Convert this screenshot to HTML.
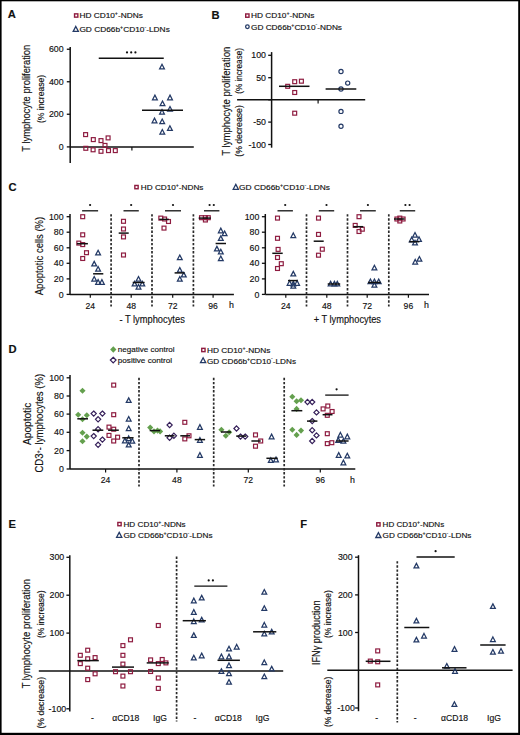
<!DOCTYPE html>
<html><head><meta charset="utf-8"><style>
html,body{margin:0;padding:0;background:#fff;}
svg{display:block;}
text{font-family:"Liberation Sans", sans-serif;stroke:#111;stroke-width:0.15px;}
</style></head><body>
<svg width="520" height="735" viewBox="0 0 520 735">
<rect x="0" y="0" width="520" height="735" fill="#fff"/>
<rect x="0" y="0" width="520" height="1.3" fill="#000"/>
<rect x="0" y="0" width="1.6" height="735" fill="#000"/>
<rect x="518.2" y="0" width="1.8" height="735" fill="#000"/>
<rect x="0" y="732.8" width="520" height="2.2" fill="#000"/>
<text x="7.8" y="18.4" font-size="11.2" text-anchor="start" font-weight="bold" fill="#111">A</text>
<text x="211.4" y="18.6" font-size="11.2" text-anchor="start" font-weight="bold" fill="#111">B</text>
<text x="8.4" y="191.4" font-size="11.2" text-anchor="start" font-weight="bold" fill="#111">C</text>
<text x="8.5" y="353.1" font-size="11.2" text-anchor="start" font-weight="bold" fill="#111">D</text>
<text x="8.5" y="527.6" font-size="11.2" text-anchor="start" font-weight="bold" fill="#111">E</text>
<text x="300.3" y="527.6" font-size="11.2" text-anchor="start" font-weight="bold" fill="#111">F</text>
<rect x="74.55" y="13.85" width="3.3" height="3.3" fill="none" stroke="#8e1c40" stroke-width="1.4"/>
<text x="79.4" y="18.4" font-size="7.9" fill="#111" textLength="63.4" lengthAdjust="spacingAndGlyphs">HD CD10<tspan dy="-3.0" font-size="5">+</tspan><tspan dy="3.0">-NDNs</tspan></text>
<path d="M75.80 26.50L78.40 31.40L73.20 31.40Z" fill="none" stroke="#243a66" stroke-width="1.3" stroke-linejoin="miter"/>
<text x="79.4" y="31.9" font-size="7.9" fill="#111" textLength="90.4" lengthAdjust="spacingAndGlyphs">GD CD66b<tspan dy="-3.0" font-size="5">+</tspan><tspan dy="3.0">CD10<tspan dy="-3.3" font-size="5">-</tspan><tspan dy="3.3">-LDNs</tspan></tspan></text>
<line x1="70.2" y1="47.0" x2="70.2" y2="163.0" stroke="#111" stroke-width="1.5"/>
<line x1="66.8" y1="49.25" x2="70.2" y2="49.25" stroke="#111" stroke-width="1.3"/>
<text x="63.6" y="52.35" font-size="8.8" text-anchor="end" font-weight="normal" fill="#111">600</text>
<line x1="66.8" y1="81.75" x2="70.2" y2="81.75" stroke="#111" stroke-width="1.3"/>
<text x="63.6" y="84.85" font-size="8.8" text-anchor="end" font-weight="normal" fill="#111">400</text>
<line x1="66.8" y1="114.25" x2="70.2" y2="114.25" stroke="#111" stroke-width="1.3"/>
<text x="63.6" y="117.35" font-size="8.8" text-anchor="end" font-weight="normal" fill="#111">200</text>
<line x1="66.8" y1="146.9" x2="70.2" y2="146.9" stroke="#111" stroke-width="1.3"/>
<text x="63.6" y="150.0" font-size="8.8" text-anchor="end" font-weight="normal" fill="#111">0</text>
<line x1="70.2" y1="146.9" x2="193.8" y2="146.9" stroke="#111" stroke-width="1.5"/>
<line x1="131.9" y1="146.9" x2="131.9" y2="150.4" stroke="#111" stroke-width="1.2"/>
<line x1="98.75" y1="58.25" x2="163.75" y2="58.25" stroke="#111" stroke-width="1.3"/>
<circle cx="127.00" cy="52.45" r="1.1" fill="#111"/>
<circle cx="131.20" cy="52.45" r="1.1" fill="#111"/>
<circle cx="135.40" cy="52.45" r="1.1" fill="#111"/>
<rect x="83.65" y="132.65" width="3.9" height="3.9" fill="none" stroke="#8e1c40" stroke-width="1.2"/>
<rect x="91.35" y="137.65" width="3.9" height="3.9" fill="none" stroke="#8e1c40" stroke-width="1.2"/>
<rect x="99.05" y="138.65" width="3.9" height="3.9" fill="none" stroke="#8e1c40" stroke-width="1.2"/>
<rect x="106.15" y="135.95" width="3.9" height="3.9" fill="none" stroke="#8e1c40" stroke-width="1.2"/>
<rect x="103.05" y="143.45" width="3.9" height="3.9" fill="none" stroke="#8e1c40" stroke-width="1.2"/>
<rect x="83.85" y="146.35" width="3.9" height="3.9" fill="none" stroke="#8e1c40" stroke-width="1.2"/>
<rect x="91.15" y="147.85" width="3.9" height="3.9" fill="none" stroke="#8e1c40" stroke-width="1.2"/>
<rect x="99.05" y="149.35" width="3.9" height="3.9" fill="none" stroke="#8e1c40" stroke-width="1.2"/>
<rect x="106.55" y="148.65" width="3.9" height="3.9" fill="none" stroke="#8e1c40" stroke-width="1.2"/>
<rect x="113.35" y="148.65" width="3.9" height="3.9" fill="none" stroke="#8e1c40" stroke-width="1.2"/>
<path d="M162.00 64.30L164.40 68.90L159.60 68.90Z" fill="none" stroke="#243a66" stroke-width="1.25" stroke-linejoin="miter"/>
<path d="M154.90 95.15L157.30 99.75L152.50 99.75Z" fill="none" stroke="#243a66" stroke-width="1.25" stroke-linejoin="miter"/>
<path d="M170.00 95.15L172.40 99.75L167.60 99.75Z" fill="none" stroke="#243a66" stroke-width="1.25" stroke-linejoin="miter"/>
<path d="M162.50 101.05L164.90 105.65L160.10 105.65Z" fill="none" stroke="#243a66" stroke-width="1.25" stroke-linejoin="miter"/>
<path d="M170.00 106.55L172.40 111.15L167.60 111.15Z" fill="none" stroke="#243a66" stroke-width="1.25" stroke-linejoin="miter"/>
<path d="M162.00 109.55L164.40 114.15L159.60 114.15Z" fill="none" stroke="#243a66" stroke-width="1.25" stroke-linejoin="miter"/>
<path d="M154.50 118.15L156.90 122.75L152.10 122.75Z" fill="none" stroke="#243a66" stroke-width="1.25" stroke-linejoin="miter"/>
<path d="M162.20 119.05L164.60 123.65L159.80 123.65Z" fill="none" stroke="#243a66" stroke-width="1.25" stroke-linejoin="miter"/>
<path d="M169.90 125.75L172.30 130.35L167.50 130.35Z" fill="none" stroke="#243a66" stroke-width="1.25" stroke-linejoin="miter"/>
<path d="M162.30 129.55L164.70 134.15L159.90 134.15Z" fill="none" stroke="#243a66" stroke-width="1.25" stroke-linejoin="miter"/>
<line x1="142" y1="110.2" x2="183" y2="110.2" stroke="#111" stroke-width="1.5"/>
<text x="30.1" y="151.7" font-size="10.6" text-anchor="start" font-weight="normal" fill="#111" textLength="107" lengthAdjust="spacingAndGlyphs" transform="rotate(-90 30.1 151.7)">T lymphocyte proliferation</text>
<text x="43.6" y="123.0" font-size="8.6" text-anchor="start" font-weight="normal" fill="#111" textLength="48.2" lengthAdjust="spacingAndGlyphs" transform="rotate(-90 43.6 123.0)">(% increase)</text>
<rect x="245.70" y="13.95" width="3.3" height="3.3" fill="none" stroke="#8e1c40" stroke-width="1.4"/>
<text x="251.0" y="18.4" font-size="7.9" fill="#111" textLength="63.4" lengthAdjust="spacingAndGlyphs">HD CD10<tspan dy="-3.0" font-size="5">+</tspan><tspan dy="3.0">-NDNs</tspan></text>
<circle cx="247.4" cy="26.75" r="1.8" fill="none" stroke="#243a66" stroke-width="1.3"/>
<text x="251.0" y="29.6" font-size="7.9" fill="#111" textLength="91.0" lengthAdjust="spacingAndGlyphs">GD CD66b<tspan dy="-3.0" font-size="5">+</tspan><tspan dy="3.0">CD10<tspan dy="-3.3" font-size="5">-</tspan><tspan dy="3.3">-NDNs</tspan></tspan></text>
<line x1="271.6" y1="52.1" x2="271.6" y2="147.7" stroke="#111" stroke-width="1.5"/>
<line x1="268.20000000000005" y1="55.3" x2="271.6" y2="55.3" stroke="#111" stroke-width="1.3"/>
<text x="266.0" y="58.4" font-size="8.8" text-anchor="end" font-weight="normal" fill="#111">100</text>
<line x1="268.20000000000005" y1="77.7" x2="271.6" y2="77.7" stroke="#111" stroke-width="1.3"/>
<text x="266.0" y="80.8" font-size="8.8" text-anchor="end" font-weight="normal" fill="#111">50</text>
<line x1="268.20000000000005" y1="122.1" x2="271.6" y2="122.1" stroke="#111" stroke-width="1.3"/>
<text x="266.0" y="125.19999999999999" font-size="8.8" text-anchor="end" font-weight="normal" fill="#111">-50</text>
<line x1="268.20000000000005" y1="144.5" x2="271.6" y2="144.5" stroke="#111" stroke-width="1.3"/>
<text x="266.0" y="147.6" font-size="8.8" text-anchor="end" font-weight="normal" fill="#111">-100</text>
<line x1="268.2" y1="99.8" x2="271.6" y2="99.8" stroke="#111" stroke-width="1.3"/>
<line x1="237.1" y1="99.8" x2="365.2" y2="99.8" stroke="#111" stroke-width="1.5"/>
<line x1="318.1" y1="99.8" x2="318.1" y2="103.5" stroke="#111" stroke-width="1.2"/>
<rect x="285.75" y="84.35" width="3.9" height="3.9" fill="none" stroke="#8e1c40" stroke-width="1.2"/>
<rect x="292.75" y="79.75" width="3.9" height="3.9" fill="none" stroke="#8e1c40" stroke-width="1.2"/>
<rect x="299.45" y="79.25" width="3.9" height="3.9" fill="none" stroke="#8e1c40" stroke-width="1.2"/>
<rect x="292.75" y="90.55" width="3.9" height="3.9" fill="none" stroke="#8e1c40" stroke-width="1.2"/>
<rect x="292.75" y="111.25" width="3.9" height="3.9" fill="none" stroke="#8e1c40" stroke-width="1.2"/>
<line x1="279" y1="86.3" x2="309.5" y2="86.3" stroke="#111" stroke-width="1.5"/>
<circle cx="341" cy="71.5" r="2.1" fill="none" stroke="#243a66" stroke-width="1.2"/>
<circle cx="347.7" cy="83.1" r="2.1" fill="none" stroke="#243a66" stroke-width="1.2"/>
<circle cx="341" cy="89" r="2.1" fill="none" stroke="#243a66" stroke-width="1.2"/>
<circle cx="341" cy="111.4" r="2.1" fill="none" stroke="#243a66" stroke-width="1.2"/>
<circle cx="341" cy="126.2" r="2.1" fill="none" stroke="#243a66" stroke-width="1.2"/>
<line x1="325.6" y1="89" x2="356.3" y2="89" stroke="#111" stroke-width="1.5"/>
<text x="229.8" y="155.7" font-size="10.6" text-anchor="start" font-weight="normal" fill="#111" textLength="109" lengthAdjust="spacingAndGlyphs" transform="rotate(-90 229.8 155.7)">T lymphocyte proliferation</text>
<text x="242.2" y="93.8" font-size="8.6" text-anchor="start" font-weight="normal" fill="#111" textLength="45.8" lengthAdjust="spacingAndGlyphs" transform="rotate(-90 242.2 93.8)">(% increase)</text>
<text x="242.2" y="156.7" font-size="8.6" text-anchor="start" font-weight="normal" fill="#111" textLength="51.5" lengthAdjust="spacingAndGlyphs" transform="rotate(-90 242.2 156.7)">(% decrease)</text>
<rect x="134.85" y="185.45" width="3.3" height="3.3" fill="none" stroke="#8e1c40" stroke-width="1.4"/>
<text x="140.8" y="190.0" font-size="7.9" fill="#111" textLength="62.6" lengthAdjust="spacingAndGlyphs">HD CD10<tspan dy="-3.0" font-size="5">+</tspan><tspan dy="3.0">-NDNs</tspan></text>
<path d="M235.80 184.40L238.40 189.30L233.20 189.30Z" fill="none" stroke="#243a66" stroke-width="1.3" stroke-linejoin="miter"/>
<text x="239.1" y="190.0" font-size="7.9" fill="#111" textLength="90.9" lengthAdjust="spacingAndGlyphs">GD CD66b<tspan dy="-3.0" font-size="5">+</tspan><tspan dy="3.0">CD10<tspan dy="-3.3" font-size="5">-</tspan><tspan dy="3.3">-LDNs</tspan></tspan></text>
<line x1="70.0" y1="214.0" x2="70.0" y2="294.4" stroke="#111" stroke-width="1.5"/>
<line x1="66.6" y1="216.7" x2="70.0" y2="216.7" stroke="#111" stroke-width="1.3"/>
<text x="63.6" y="219.79999999999998" font-size="8.8" text-anchor="end" font-weight="normal" fill="#111">100</text>
<line x1="66.6" y1="232.2" x2="70.0" y2="232.2" stroke="#111" stroke-width="1.3"/>
<text x="63.6" y="235.29999999999998" font-size="8.8" text-anchor="end" font-weight="normal" fill="#111">80</text>
<line x1="66.6" y1="247.8" x2="70.0" y2="247.8" stroke="#111" stroke-width="1.3"/>
<text x="63.6" y="250.9" font-size="8.8" text-anchor="end" font-weight="normal" fill="#111">60</text>
<line x1="66.6" y1="263.3" x2="70.0" y2="263.3" stroke="#111" stroke-width="1.3"/>
<text x="63.6" y="266.40000000000003" font-size="8.8" text-anchor="end" font-weight="normal" fill="#111">40</text>
<line x1="66.6" y1="278.9" x2="70.0" y2="278.9" stroke="#111" stroke-width="1.3"/>
<text x="63.6" y="282.0" font-size="8.8" text-anchor="end" font-weight="normal" fill="#111">20</text>
<line x1="66.6" y1="294.4" x2="70.0" y2="294.4" stroke="#111" stroke-width="1.3"/>
<text x="63.6" y="297.5" font-size="8.8" text-anchor="end" font-weight="normal" fill="#111">0</text>
<line x1="70.0" y1="294.4" x2="233.9" y2="294.4" stroke="#111" stroke-width="1.5"/>
<line x1="90.3" y1="294.4" x2="90.3" y2="297.8" stroke="#111" stroke-width="1.2"/>
<line x1="131.2" y1="294.4" x2="131.2" y2="297.8" stroke="#111" stroke-width="1.2"/>
<line x1="172.7" y1="294.4" x2="172.7" y2="297.8" stroke="#111" stroke-width="1.2"/>
<line x1="213.1" y1="294.4" x2="213.1" y2="297.8" stroke="#111" stroke-width="1.2"/>
<line x1="111.1" y1="214.2" x2="111.1" y2="306.5" stroke="#2a2a2a" stroke-width="1.7" stroke-dasharray="2.4 1.7"/>
<line x1="152.0" y1="214.2" x2="152.0" y2="306.5" stroke="#2a2a2a" stroke-width="1.7" stroke-dasharray="2.4 1.7"/>
<line x1="193.4" y1="214.2" x2="193.4" y2="306.5" stroke="#2a2a2a" stroke-width="1.7" stroke-dasharray="2.4 1.7"/>
<line x1="82.1" y1="210.8" x2="98.1" y2="210.8" stroke="#111" stroke-width="1.3"/>
<circle cx="90.10" cy="205.00" r="1.1" fill="#111"/>
<line x1="123.5" y1="210.8" x2="138.8" y2="210.8" stroke="#111" stroke-width="1.3"/>
<circle cx="131.15" cy="205.00" r="1.1" fill="#111"/>
<line x1="165" y1="210.8" x2="181" y2="210.8" stroke="#111" stroke-width="1.3"/>
<circle cx="173.00" cy="205.00" r="1.1" fill="#111"/>
<line x1="204" y1="210.8" x2="219.4" y2="210.8" stroke="#111" stroke-width="1.3"/>
<circle cx="209.60" cy="205.00" r="1.1" fill="#111"/>
<circle cx="213.80" cy="205.00" r="1.1" fill="#111"/>
<text x="90.3" y="308.6" font-size="8.6" text-anchor="middle" font-weight="normal" fill="#111">24</text>
<text x="131.2" y="308.6" font-size="8.6" text-anchor="middle" font-weight="normal" fill="#111">48</text>
<text x="172.7" y="308.6" font-size="8.6" text-anchor="middle" font-weight="normal" fill="#111">72</text>
<text x="213.1" y="308.6" font-size="8.6" text-anchor="middle" font-weight="normal" fill="#111">96</text>
<text x="233.9" y="308.4" font-size="8.8" text-anchor="end" font-weight="normal" fill="#111">h</text>
<text x="119.4" y="322.8" font-size="10.4" text-anchor="start" font-weight="normal" fill="#111" textLength="65.4" lengthAdjust="spacingAndGlyphs">- T lymphocytes</text>
<rect x="80.75" y="214.75" width="3.9" height="3.9" fill="none" stroke="#8e1c40" stroke-width="1.2"/>
<rect x="80.75" y="232.85" width="3.9" height="3.9" fill="none" stroke="#8e1c40" stroke-width="1.2"/>
<rect x="76.85" y="241.15" width="3.9" height="3.9" fill="none" stroke="#8e1c40" stroke-width="1.2"/>
<rect x="80.75" y="242.65" width="3.9" height="3.9" fill="none" stroke="#8e1c40" stroke-width="1.2"/>
<rect x="84.55" y="250.75" width="3.9" height="3.9" fill="none" stroke="#8e1c40" stroke-width="1.2"/>
<rect x="80.75" y="256.55" width="3.9" height="3.9" fill="none" stroke="#8e1c40" stroke-width="1.2"/>
<line x1="76.9" y1="243.7" x2="87.9" y2="243.7" stroke="#111" stroke-width="1.5"/>
<path d="M98.10 250.25L100.50 254.85L95.70 254.85Z" fill="none" stroke="#243a66" stroke-width="1.25" stroke-linejoin="miter"/>
<path d="M94.20 261.35L96.60 265.95L91.80 265.95Z" fill="none" stroke="#243a66" stroke-width="1.25" stroke-linejoin="miter"/>
<path d="M98.10 266.55L100.50 271.15L95.70 271.15Z" fill="none" stroke="#243a66" stroke-width="1.25" stroke-linejoin="miter"/>
<path d="M94.20 276.55L96.60 281.15L91.80 281.15Z" fill="none" stroke="#243a66" stroke-width="1.25" stroke-linejoin="miter"/>
<path d="M98.10 279.65L100.50 284.25L95.70 284.25Z" fill="none" stroke="#243a66" stroke-width="1.25" stroke-linejoin="miter"/>
<path d="M101.90 279.65L104.30 284.25L99.50 284.25Z" fill="none" stroke="#243a66" stroke-width="1.25" stroke-linejoin="miter"/>
<line x1="93.1" y1="273.8" x2="103.3" y2="273.8" stroke="#111" stroke-width="1.5"/>
<rect x="121.55" y="219.35" width="3.9" height="3.9" fill="none" stroke="#8e1c40" stroke-width="1.2"/>
<rect x="121.55" y="227.05" width="3.9" height="3.9" fill="none" stroke="#8e1c40" stroke-width="1.2"/>
<rect x="121.55" y="234.95" width="3.9" height="3.9" fill="none" stroke="#8e1c40" stroke-width="1.2"/>
<rect x="121.55" y="253.05" width="3.9" height="3.9" fill="none" stroke="#8e1c40" stroke-width="1.2"/>
<line x1="118.7" y1="233.1" x2="128.7" y2="233.1" stroke="#111" stroke-width="1.5"/>
<path d="M138.50 276.55L140.90 281.15L136.10 281.15Z" fill="none" stroke="#243a66" stroke-width="1.25" stroke-linejoin="miter"/>
<path d="M134.60 281.35L137.00 285.95L132.20 285.95Z" fill="none" stroke="#243a66" stroke-width="1.25" stroke-linejoin="miter"/>
<path d="M142.30 281.35L144.70 285.95L139.90 285.95Z" fill="none" stroke="#243a66" stroke-width="1.25" stroke-linejoin="miter"/>
<path d="M138.50 284.55L140.90 289.15L136.10 289.15Z" fill="none" stroke="#243a66" stroke-width="1.25" stroke-linejoin="miter"/>
<line x1="132.7" y1="282.5" x2="144.6" y2="282.5" stroke="#111" stroke-width="1.5"/>
<rect x="158.85" y="216.15" width="3.9" height="3.9" fill="none" stroke="#8e1c40" stroke-width="1.2"/>
<rect x="162.65" y="217.05" width="3.9" height="3.9" fill="none" stroke="#8e1c40" stroke-width="1.2"/>
<rect x="166.55" y="219.55" width="3.9" height="3.9" fill="none" stroke="#8e1c40" stroke-width="1.2"/>
<rect x="162.05" y="226.15" width="3.9" height="3.9" fill="none" stroke="#8e1c40" stroke-width="1.2"/>
<line x1="159.2" y1="219.4" x2="168.8" y2="219.4" stroke="#111" stroke-width="1.5"/>
<path d="M179.80 255.05L182.20 259.65L177.40 259.65Z" fill="none" stroke="#243a66" stroke-width="1.25" stroke-linejoin="miter"/>
<path d="M179.80 267.55L182.20 272.15L177.40 272.15Z" fill="none" stroke="#243a66" stroke-width="1.25" stroke-linejoin="miter"/>
<path d="M183.80 272.35L186.20 276.95L181.40 276.95Z" fill="none" stroke="#243a66" stroke-width="1.25" stroke-linejoin="miter"/>
<path d="M179.80 276.55L182.20 281.15L177.40 281.15Z" fill="none" stroke="#243a66" stroke-width="1.25" stroke-linejoin="miter"/>
<line x1="174.6" y1="272.9" x2="184.6" y2="272.9" stroke="#111" stroke-width="1.5"/>
<rect x="199.55" y="215.75" width="3.9" height="3.9" fill="none" stroke="#8e1c40" stroke-width="1.2"/>
<rect x="203.45" y="215.75" width="3.9" height="3.9" fill="none" stroke="#8e1c40" stroke-width="1.2"/>
<rect x="206.35" y="215.75" width="3.9" height="3.9" fill="none" stroke="#8e1c40" stroke-width="1.2"/>
<rect x="203.45" y="218.05" width="3.9" height="3.9" fill="none" stroke="#8e1c40" stroke-width="1.2"/>
<line x1="198.7" y1="218.1" x2="210.8" y2="218.1" stroke="#111" stroke-width="1.5"/>
<path d="M220.80 228.15L223.20 232.75L218.40 232.75Z" fill="none" stroke="#243a66" stroke-width="1.25" stroke-linejoin="miter"/>
<path d="M224.60 231.05L227.00 235.65L222.20 235.65Z" fill="none" stroke="#243a66" stroke-width="1.25" stroke-linejoin="miter"/>
<path d="M220.80 235.85L223.20 240.45L218.40 240.45Z" fill="none" stroke="#243a66" stroke-width="1.25" stroke-linejoin="miter"/>
<path d="M216.90 246.35L219.30 250.95L214.50 250.95Z" fill="none" stroke="#243a66" stroke-width="1.25" stroke-linejoin="miter"/>
<path d="M220.80 249.25L223.20 253.85L218.40 253.85Z" fill="none" stroke="#243a66" stroke-width="1.25" stroke-linejoin="miter"/>
<path d="M220.80 256.05L223.20 260.65L218.40 260.65Z" fill="none" stroke="#243a66" stroke-width="1.25" stroke-linejoin="miter"/>
<line x1="215.6" y1="243.5" x2="226" y2="243.5" stroke="#111" stroke-width="1.5"/>
<line x1="265.3" y1="214.0" x2="265.3" y2="294.4" stroke="#111" stroke-width="1.5"/>
<line x1="261.90000000000003" y1="216.7" x2="265.3" y2="216.7" stroke="#111" stroke-width="1.3"/>
<text x="259.4" y="219.79999999999998" font-size="8.8" text-anchor="end" font-weight="normal" fill="#111">100</text>
<line x1="261.90000000000003" y1="232.2" x2="265.3" y2="232.2" stroke="#111" stroke-width="1.3"/>
<text x="259.4" y="235.29999999999998" font-size="8.8" text-anchor="end" font-weight="normal" fill="#111">80</text>
<line x1="261.90000000000003" y1="247.8" x2="265.3" y2="247.8" stroke="#111" stroke-width="1.3"/>
<text x="259.4" y="250.9" font-size="8.8" text-anchor="end" font-weight="normal" fill="#111">60</text>
<line x1="261.90000000000003" y1="263.3" x2="265.3" y2="263.3" stroke="#111" stroke-width="1.3"/>
<text x="259.4" y="266.40000000000003" font-size="8.8" text-anchor="end" font-weight="normal" fill="#111">40</text>
<line x1="261.90000000000003" y1="278.9" x2="265.3" y2="278.9" stroke="#111" stroke-width="1.3"/>
<text x="259.4" y="282.0" font-size="8.8" text-anchor="end" font-weight="normal" fill="#111">20</text>
<line x1="261.90000000000003" y1="294.4" x2="265.3" y2="294.4" stroke="#111" stroke-width="1.3"/>
<text x="259.4" y="297.5" font-size="8.8" text-anchor="end" font-weight="normal" fill="#111">0</text>
<line x1="265.3" y1="294.4" x2="429.0" y2="294.4" stroke="#111" stroke-width="1.5"/>
<line x1="285.8" y1="294.4" x2="285.8" y2="297.8" stroke="#111" stroke-width="1.2"/>
<line x1="326.8" y1="294.4" x2="326.8" y2="297.8" stroke="#111" stroke-width="1.2"/>
<line x1="367.2" y1="294.4" x2="367.2" y2="297.8" stroke="#111" stroke-width="1.2"/>
<line x1="408.4" y1="294.4" x2="408.4" y2="297.8" stroke="#111" stroke-width="1.2"/>
<line x1="306.5" y1="214.2" x2="306.5" y2="306.5" stroke="#2a2a2a" stroke-width="1.7" stroke-dasharray="2.4 1.7"/>
<line x1="347.5" y1="214.2" x2="347.5" y2="306.5" stroke="#2a2a2a" stroke-width="1.7" stroke-dasharray="2.4 1.7"/>
<line x1="388.8" y1="214.2" x2="388.8" y2="306.5" stroke="#2a2a2a" stroke-width="1.7" stroke-dasharray="2.4 1.7"/>
<line x1="277.5" y1="210.8" x2="292.9" y2="210.8" stroke="#111" stroke-width="1.3"/>
<circle cx="285.20" cy="205.00" r="1.1" fill="#111"/>
<line x1="318.8" y1="210.8" x2="334.2" y2="210.8" stroke="#111" stroke-width="1.3"/>
<circle cx="326.50" cy="205.00" r="1.1" fill="#111"/>
<line x1="360" y1="210.8" x2="375.8" y2="210.8" stroke="#111" stroke-width="1.3"/>
<circle cx="367.90" cy="205.00" r="1.1" fill="#111"/>
<line x1="399.8" y1="210.8" x2="415.2" y2="210.8" stroke="#111" stroke-width="1.3"/>
<circle cx="405.40" cy="205.00" r="1.1" fill="#111"/>
<circle cx="409.60" cy="205.00" r="1.1" fill="#111"/>
<text x="285.8" y="308.6" font-size="8.6" text-anchor="middle" font-weight="normal" fill="#111">24</text>
<text x="326.8" y="308.6" font-size="8.6" text-anchor="middle" font-weight="normal" fill="#111">48</text>
<text x="367.2" y="308.6" font-size="8.6" text-anchor="middle" font-weight="normal" fill="#111">72</text>
<text x="408.4" y="308.6" font-size="8.6" text-anchor="middle" font-weight="normal" fill="#111">96</text>
<text x="429.0" y="308.4" font-size="8.8" text-anchor="end" font-weight="normal" fill="#111">h</text>
<text x="313.7" y="322.8" font-size="10.4" text-anchor="start" font-weight="normal" fill="#111" textLength="67.3" lengthAdjust="spacingAndGlyphs">+ T lymphocytes</text>
<rect x="275.55" y="216.15" width="3.9" height="3.9" fill="none" stroke="#8e1c40" stroke-width="1.2"/>
<rect x="275.55" y="236.35" width="3.9" height="3.9" fill="none" stroke="#8e1c40" stroke-width="1.2"/>
<rect x="276.15" y="247.45" width="3.9" height="3.9" fill="none" stroke="#8e1c40" stroke-width="1.2"/>
<rect x="275.55" y="255.55" width="3.9" height="3.9" fill="none" stroke="#8e1c40" stroke-width="1.2"/>
<rect x="279.35" y="261.75" width="3.9" height="3.9" fill="none" stroke="#8e1c40" stroke-width="1.2"/>
<rect x="275.55" y="266.55" width="3.9" height="3.9" fill="none" stroke="#8e1c40" stroke-width="1.2"/>
<line x1="272.3" y1="253.3" x2="282.7" y2="253.3" stroke="#111" stroke-width="1.5"/>
<path d="M293.30 232.95L295.70 237.55L290.90 237.55Z" fill="none" stroke="#243a66" stroke-width="1.25" stroke-linejoin="miter"/>
<path d="M293.30 271.35L295.70 275.95L290.90 275.95Z" fill="none" stroke="#243a66" stroke-width="1.25" stroke-linejoin="miter"/>
<path d="M289.60 280.65L292.00 285.25L287.20 285.25Z" fill="none" stroke="#243a66" stroke-width="1.25" stroke-linejoin="miter"/>
<path d="M293.30 281.35L295.70 285.95L290.90 285.95Z" fill="none" stroke="#243a66" stroke-width="1.25" stroke-linejoin="miter"/>
<path d="M297.10 280.65L299.50 285.25L294.70 285.25Z" fill="none" stroke="#243a66" stroke-width="1.25" stroke-linejoin="miter"/>
<path d="M293.30 283.55L295.70 288.15L290.90 288.15Z" fill="none" stroke="#243a66" stroke-width="1.25" stroke-linejoin="miter"/>
<line x1="288" y1="280.6" x2="297.7" y2="280.6" stroke="#111" stroke-width="1.5"/>
<rect x="316.55" y="216.15" width="3.9" height="3.9" fill="none" stroke="#8e1c40" stroke-width="1.2"/>
<rect x="316.55" y="232.45" width="3.9" height="3.9" fill="none" stroke="#8e1c40" stroke-width="1.2"/>
<rect x="320.35" y="247.25" width="3.9" height="3.9" fill="none" stroke="#8e1c40" stroke-width="1.2"/>
<rect x="316.55" y="253.25" width="3.9" height="3.9" fill="none" stroke="#8e1c40" stroke-width="1.2"/>
<line x1="313.7" y1="241.2" x2="323.7" y2="241.2" stroke="#111" stroke-width="1.5"/>
<path d="M330.60 281.35L333.00 285.95L328.20 285.95Z" fill="none" stroke="#243a66" stroke-width="1.25" stroke-linejoin="miter"/>
<path d="M334.40 281.35L336.80 285.95L332.00 285.95Z" fill="none" stroke="#243a66" stroke-width="1.25" stroke-linejoin="miter"/>
<path d="M337.30 281.35L339.70 285.95L334.90 285.95Z" fill="none" stroke="#243a66" stroke-width="1.25" stroke-linejoin="miter"/>
<line x1="327.7" y1="284" x2="340.2" y2="284" stroke="#111" stroke-width="1.5"/>
<rect x="357.05" y="214.75" width="3.9" height="3.9" fill="none" stroke="#8e1c40" stroke-width="1.2"/>
<rect x="353.25" y="223.45" width="3.9" height="3.9" fill="none" stroke="#8e1c40" stroke-width="1.2"/>
<rect x="360.35" y="227.25" width="3.9" height="3.9" fill="none" stroke="#8e1c40" stroke-width="1.2"/>
<rect x="357.05" y="229.55" width="3.9" height="3.9" fill="none" stroke="#8e1c40" stroke-width="1.2"/>
<line x1="353.3" y1="226.7" x2="363.3" y2="226.7" stroke="#111" stroke-width="1.5"/>
<path d="M374.40 265.25L376.80 269.85L372.00 269.85Z" fill="none" stroke="#243a66" stroke-width="1.25" stroke-linejoin="miter"/>
<path d="M370.40 279.05L372.80 283.65L368.00 283.65Z" fill="none" stroke="#243a66" stroke-width="1.25" stroke-linejoin="miter"/>
<path d="M374.40 279.05L376.80 283.65L372.00 283.65Z" fill="none" stroke="#243a66" stroke-width="1.25" stroke-linejoin="miter"/>
<path d="M378.70 279.05L381.10 283.65L376.30 283.65Z" fill="none" stroke="#243a66" stroke-width="1.25" stroke-linejoin="miter"/>
<path d="M374.40 282.55L376.80 287.15L372.00 287.15Z" fill="none" stroke="#243a66" stroke-width="1.25" stroke-linejoin="miter"/>
<line x1="368" y1="282.5" x2="380.6" y2="282.5" stroke="#111" stroke-width="1.5"/>
<rect x="394.95" y="217.05" width="3.9" height="3.9" fill="none" stroke="#8e1c40" stroke-width="1.2"/>
<rect x="397.85" y="216.15" width="3.9" height="3.9" fill="none" stroke="#8e1c40" stroke-width="1.2"/>
<rect x="401.15" y="217.05" width="3.9" height="3.9" fill="none" stroke="#8e1c40" stroke-width="1.2"/>
<rect x="397.85" y="219.05" width="3.9" height="3.9" fill="none" stroke="#8e1c40" stroke-width="1.2"/>
<line x1="394" y1="219" x2="404.6" y2="219" stroke="#111" stroke-width="1.5"/>
<path d="M415.00 232.55L417.40 237.15L412.60 237.15Z" fill="none" stroke="#243a66" stroke-width="1.25" stroke-linejoin="miter"/>
<path d="M411.70 237.15L414.10 241.75L409.30 241.75Z" fill="none" stroke="#243a66" stroke-width="1.25" stroke-linejoin="miter"/>
<path d="M419.00 236.75L421.40 241.35L416.60 241.35Z" fill="none" stroke="#243a66" stroke-width="1.25" stroke-linejoin="miter"/>
<path d="M415.00 240.25L417.40 244.85L412.60 244.85Z" fill="none" stroke="#243a66" stroke-width="1.25" stroke-linejoin="miter"/>
<path d="M415.20 259.45L417.60 264.05L412.80 264.05Z" fill="none" stroke="#243a66" stroke-width="1.25" stroke-linejoin="miter"/>
<path d="M419.40 256.55L421.80 261.15L417.00 261.15Z" fill="none" stroke="#243a66" stroke-width="1.25" stroke-linejoin="miter"/>
<line x1="409.2" y1="241.7" x2="419.4" y2="241.7" stroke="#111" stroke-width="1.5"/>
<text x="43.0" y="295.2" font-size="10.2" text-anchor="start" font-weight="normal" fill="#111" textLength="78.4" lengthAdjust="spacingAndGlyphs" transform="rotate(-90 43.0 295.2)">Apoptotic cells (%)</text>
<path d="M113.3 346.35L116.45 349.5L113.3 352.65L110.14999999999999 349.5Z" fill="#64a04e"/>
<text x="117.8" y="352.2" font-size="8.0" text-anchor="start" font-weight="normal" fill="#111" textLength="56.8" lengthAdjust="spacingAndGlyphs">negative control</text>
<path d="M113.2 357.3L116.0 360.1L113.2 362.90000000000003L110.4 360.1Z" fill="none" stroke="#36205a" stroke-width="1.3"/>
<text x="117.8" y="362.6" font-size="8.0" text-anchor="start" font-weight="normal" fill="#111" textLength="54.3" lengthAdjust="spacingAndGlyphs">positive control</text>
<rect x="201.75" y="348.35" width="3.3" height="3.3" fill="none" stroke="#8e1c40" stroke-width="1.4"/>
<text x="207.0" y="352.5" font-size="7.9" fill="#111" textLength="63.4" lengthAdjust="spacingAndGlyphs">HD CD10<tspan dy="-3.0" font-size="5">+</tspan><tspan dy="3.0">-NDNs</tspan></text>
<path d="M203.10 357.80L205.70 362.70L200.50 362.70Z" fill="none" stroke="#243a66" stroke-width="1.3" stroke-linejoin="miter"/>
<text x="207.0" y="363.5" font-size="7.9" fill="#111" textLength="89.0" lengthAdjust="spacingAndGlyphs">GD CD66b<tspan dy="-3.0" font-size="5">+</tspan><tspan dy="3.0">CD10<tspan dy="-3.3" font-size="5">-</tspan><tspan dy="3.3">-LDNs</tspan></tspan></text>
<line x1="70.0" y1="375.0" x2="70.0" y2="469.0" stroke="#111" stroke-width="1.5"/>
<line x1="66.6" y1="377.8" x2="70.0" y2="377.8" stroke="#111" stroke-width="1.3"/>
<text x="63.9" y="380.90000000000003" font-size="8.8" text-anchor="end" font-weight="normal" fill="#111">100</text>
<line x1="66.6" y1="396.0" x2="70.0" y2="396.0" stroke="#111" stroke-width="1.3"/>
<text x="63.9" y="399.1" font-size="8.8" text-anchor="end" font-weight="normal" fill="#111">80</text>
<line x1="66.6" y1="414.1" x2="70.0" y2="414.1" stroke="#111" stroke-width="1.3"/>
<text x="63.9" y="417.20000000000005" font-size="8.8" text-anchor="end" font-weight="normal" fill="#111">60</text>
<line x1="66.6" y1="432.3" x2="70.0" y2="432.3" stroke="#111" stroke-width="1.3"/>
<text x="63.9" y="435.40000000000003" font-size="8.8" text-anchor="end" font-weight="normal" fill="#111">40</text>
<line x1="66.6" y1="450.6" x2="70.0" y2="450.6" stroke="#111" stroke-width="1.3"/>
<text x="63.9" y="453.70000000000005" font-size="8.8" text-anchor="end" font-weight="normal" fill="#111">20</text>
<line x1="66.6" y1="469.0" x2="70.0" y2="469.0" stroke="#111" stroke-width="1.3"/>
<text x="63.9" y="472.1" font-size="8.8" text-anchor="end" font-weight="normal" fill="#111">0</text>
<line x1="70.0" y1="469.0" x2="355.3" y2="469.0" stroke="#111" stroke-width="1.5"/>
<line x1="105.6" y1="469" x2="105.6" y2="472.4" stroke="#111" stroke-width="1.2"/>
<line x1="176.9" y1="469" x2="176.9" y2="472.4" stroke="#111" stroke-width="1.2"/>
<line x1="248.3" y1="469" x2="248.3" y2="472.4" stroke="#111" stroke-width="1.2"/>
<line x1="320.3" y1="469" x2="320.3" y2="472.4" stroke="#111" stroke-width="1.2"/>
<line x1="139.0" y1="377.8" x2="139.0" y2="486.5" stroke="#2a2a2a" stroke-width="1.7" stroke-dasharray="2.4 1.7"/>
<line x1="213.7" y1="377.8" x2="213.7" y2="486.5" stroke="#2a2a2a" stroke-width="1.7" stroke-dasharray="2.4 1.7"/>
<line x1="284.2" y1="377.8" x2="284.2" y2="486.5" stroke="#2a2a2a" stroke-width="1.7" stroke-dasharray="2.4 1.7"/>
<text x="105.6" y="483.0" font-size="8.6" text-anchor="middle" font-weight="normal" fill="#111">24</text>
<text x="176.9" y="483.0" font-size="8.6" text-anchor="middle" font-weight="normal" fill="#111">48</text>
<text x="248.3" y="483.0" font-size="8.6" text-anchor="middle" font-weight="normal" fill="#111">72</text>
<text x="320.3" y="483.0" font-size="8.6" text-anchor="middle" font-weight="normal" fill="#111">96</text>
<text x="355.0" y="483.3" font-size="8.8" text-anchor="end" font-weight="normal" fill="#111">h</text>
<line x1="325.2" y1="395.1" x2="348.6" y2="395.1" stroke="#111" stroke-width="1.3"/>
<circle cx="336.60" cy="389.30" r="1.1" fill="#111"/>
<path d="M82.5 387.75L85.55 390.8L82.5 393.85L79.45 390.8Z" fill="#64a04e"/>
<path d="M78.2 411.65L81.25 414.7L78.2 417.75L75.15 414.7Z" fill="#64a04e"/>
<path d="M86.8 412.25L89.85 415.3L86.8 418.35L83.75 415.3Z" fill="#64a04e"/>
<path d="M82.5 416.25L85.55 419.3L82.5 422.35L79.45 419.3Z" fill="#64a04e"/>
<path d="M82.5 429.65L85.55 432.7L82.5 435.75L79.45 432.7Z" fill="#64a04e"/>
<path d="M86.8 433.55L89.85 436.6L86.8 439.65000000000003L83.75 436.6Z" fill="#64a04e"/>
<path d="M82.5 438.25L85.55 441.3L82.5 444.35L79.45 441.3Z" fill="#64a04e"/>
<line x1="77.3" y1="418.8" x2="88" y2="418.8" stroke="#111" stroke-width="1.5"/>
<path d="M93.7 411.0L96.3 413.6L93.7 416.20000000000005L91.10000000000001 413.6Z" fill="none" stroke="#36205a" stroke-width="1.2"/>
<path d="M102.4 411.0L105.0 413.6L102.4 416.20000000000005L99.80000000000001 413.6Z" fill="none" stroke="#36205a" stroke-width="1.2"/>
<path d="M98.1 416.7L100.69999999999999 419.3L98.1 421.90000000000003L95.5 419.3Z" fill="none" stroke="#36205a" stroke-width="1.2"/>
<path d="M98.1 426.59999999999997L100.69999999999999 429.2L98.1 431.8L95.5 429.2Z" fill="none" stroke="#36205a" stroke-width="1.2"/>
<path d="M93.7 433.5L96.3 436.1L93.7 438.70000000000005L91.10000000000001 436.1Z" fill="none" stroke="#36205a" stroke-width="1.2"/>
<path d="M102.4 437.0L105.0 439.6L102.4 442.20000000000005L99.80000000000001 439.6Z" fill="none" stroke="#36205a" stroke-width="1.2"/>
<path d="M98.1 442.2L100.69999999999999 444.8L98.1 447.40000000000003L95.5 444.8Z" fill="none" stroke="#36205a" stroke-width="1.2"/>
<line x1="92.5" y1="430.2" x2="103.3" y2="430.2" stroke="#111" stroke-width="1.5"/>
<rect x="111.75" y="383.15" width="3.9" height="3.9" fill="none" stroke="#8e1c40" stroke-width="1.2"/>
<rect x="111.75" y="412.75" width="3.9" height="3.9" fill="none" stroke="#8e1c40" stroke-width="1.2"/>
<rect x="107.05" y="425.15" width="3.9" height="3.9" fill="none" stroke="#8e1c40" stroke-width="1.2"/>
<rect x="111.75" y="427.25" width="3.9" height="3.9" fill="none" stroke="#8e1c40" stroke-width="1.2"/>
<rect x="107.05" y="433.45" width="3.9" height="3.9" fill="none" stroke="#8e1c40" stroke-width="1.2"/>
<rect x="115.65" y="435.25" width="3.9" height="3.9" fill="none" stroke="#8e1c40" stroke-width="1.2"/>
<rect x="111.75" y="439.05" width="3.9" height="3.9" fill="none" stroke="#8e1c40" stroke-width="1.2"/>
<line x1="108.1" y1="430.2" x2="118.8" y2="430.2" stroke="#111" stroke-width="1.5"/>
<path d="M128.70 397.85L131.10 402.45L126.30 402.45Z" fill="none" stroke="#243a66" stroke-width="1.25" stroke-linejoin="miter"/>
<path d="M128.70 416.55L131.10 421.15L126.30 421.15Z" fill="none" stroke="#243a66" stroke-width="1.25" stroke-linejoin="miter"/>
<path d="M128.70 426.05L131.10 430.65L126.30 430.65Z" fill="none" stroke="#243a66" stroke-width="1.25" stroke-linejoin="miter"/>
<path d="M124.90 438.15L127.30 442.75L122.50 442.75Z" fill="none" stroke="#243a66" stroke-width="1.25" stroke-linejoin="miter"/>
<path d="M128.70 435.95L131.10 440.55L126.30 440.55Z" fill="none" stroke="#243a66" stroke-width="1.25" stroke-linejoin="miter"/>
<path d="M132.30 438.55L134.70 443.15L129.90 443.15Z" fill="none" stroke="#243a66" stroke-width="1.25" stroke-linejoin="miter"/>
<path d="M128.70 442.35L131.10 446.95L126.30 446.95Z" fill="none" stroke="#243a66" stroke-width="1.25" stroke-linejoin="miter"/>
<line x1="122.3" y1="437.8" x2="133.6" y2="437.8" stroke="#111" stroke-width="1.5"/>
<path d="M150.2 424.55L153.25 427.6L150.2 430.65000000000003L147.14999999999998 427.6Z" fill="#64a04e"/>
<path d="M154 428.34999999999997L157.05 431.4L154 434.45L150.95 431.4Z" fill="#64a04e"/>
<path d="M157.5 427.55L160.55 430.6L157.5 433.65000000000003L154.45 430.6Z" fill="#64a04e"/>
<path d="M160.1 428.34999999999997L163.15 431.4L160.1 434.45L157.04999999999998 431.4Z" fill="#64a04e"/>
<line x1="149.7" y1="430.6" x2="160.1" y2="430.6" stroke="#111" stroke-width="1.5"/>
<path d="M169.6 422.4L172.2 425L169.6 427.6L167.0 425Z" fill="none" stroke="#36205a" stroke-width="1.2"/>
<path d="M169.6 435.2L172.2 437.8L169.6 440.40000000000003L167.0 437.8Z" fill="none" stroke="#36205a" stroke-width="1.2"/>
<path d="M173.9 433.2L176.5 435.8L173.9 438.40000000000003L171.3 435.8Z" fill="none" stroke="#36205a" stroke-width="1.2"/>
<line x1="164.8" y1="435.8" x2="174.5" y2="435.8" stroke="#111" stroke-width="1.5"/>
<rect x="182.85" y="420.35" width="3.9" height="3.9" fill="none" stroke="#8e1c40" stroke-width="1.2"/>
<rect x="182.85" y="436.95" width="3.9" height="3.9" fill="none" stroke="#8e1c40" stroke-width="1.2"/>
<rect x="187.05" y="433.85" width="3.9" height="3.9" fill="none" stroke="#8e1c40" stroke-width="1.2"/>
<line x1="180.3" y1="435.8" x2="190" y2="435.8" stroke="#111" stroke-width="1.5"/>
<path d="M199.90 424.65L202.30 429.25L197.50 429.25Z" fill="none" stroke="#243a66" stroke-width="1.25" stroke-linejoin="miter"/>
<path d="M199.90 437.65L202.30 442.25L197.50 442.25Z" fill="none" stroke="#243a66" stroke-width="1.25" stroke-linejoin="miter"/>
<path d="M199.90 452.65L202.30 457.25L197.50 457.25Z" fill="none" stroke="#243a66" stroke-width="1.25" stroke-linejoin="miter"/>
<line x1="194.7" y1="439.6" x2="205.1" y2="439.6" stroke="#111" stroke-width="1.5"/>
<path d="M221.4 426.65L224.45000000000002 429.7L221.4 432.75L218.35 429.7Z" fill="#64a04e"/>
<path d="M225.8 432.75L228.85000000000002 435.8L225.8 438.85L222.75 435.8Z" fill="#64a04e"/>
<path d="M229.2 429.25L232.25 432.3L229.2 435.35L226.14999999999998 432.3Z" fill="#64a04e"/>
<line x1="220.9" y1="432" x2="231" y2="432" stroke="#111" stroke-width="1.5"/>
<path d="M236.5 425.9L239.1 428.5L236.5 431.1L233.9 428.5Z" fill="none" stroke="#36205a" stroke-width="1.2"/>
<path d="M240.5 434.0L243.1 436.6L240.5 439.20000000000005L237.9 436.6Z" fill="none" stroke="#36205a" stroke-width="1.2"/>
<path d="M245.2 434.0L247.79999999999998 436.6L245.2 439.20000000000005L242.6 436.6Z" fill="none" stroke="#36205a" stroke-width="1.2"/>
<line x1="236.2" y1="436.1" x2="246.2" y2="436.1" stroke="#111" stroke-width="1.5"/>
<rect x="253.55" y="432.95" width="3.9" height="3.9" fill="none" stroke="#8e1c40" stroke-width="1.2"/>
<rect x="253.55" y="444.25" width="3.9" height="3.9" fill="none" stroke="#8e1c40" stroke-width="1.2"/>
<rect x="258.75" y="439.05" width="3.9" height="3.9" fill="none" stroke="#8e1c40" stroke-width="1.2"/>
<line x1="251.4" y1="441" x2="260.7" y2="441" stroke="#111" stroke-width="1.5"/>
<path d="M271.60 434.15L274.00 438.75L269.20 438.75Z" fill="none" stroke="#243a66" stroke-width="1.25" stroke-linejoin="miter"/>
<path d="M270.80 457.85L273.20 462.45L268.40 462.45Z" fill="none" stroke="#243a66" stroke-width="1.25" stroke-linejoin="miter"/>
<path d="M276.00 457.15L278.40 461.75L273.60 461.75Z" fill="none" stroke="#243a66" stroke-width="1.25" stroke-linejoin="miter"/>
<line x1="266.4" y1="458.3" x2="277.7" y2="458.3" stroke="#111" stroke-width="1.5"/>
<path d="M292.3 393.75L295.35 396.8L292.3 399.85L289.25 396.8Z" fill="#64a04e"/>
<path d="M296.6 398.15L299.65000000000003 401.2L296.6 404.25L293.55 401.2Z" fill="#64a04e"/>
<path d="M301 397.25L304.05 400.3L301 403.35L297.95 400.3Z" fill="#64a04e"/>
<path d="M296.6 405.84999999999997L299.65000000000003 408.9L296.6 411.95L293.55 408.9Z" fill="#64a04e"/>
<path d="M292.3 426.65L295.35 429.7L292.3 432.75L289.25 429.7Z" fill="#64a04e"/>
<path d="M296.6 431.84999999999997L299.65000000000003 434.9L296.6 437.95L293.55 434.9Z" fill="#64a04e"/>
<path d="M301 427.55L304.05 430.6L301 433.65000000000003L297.95 430.6Z" fill="#64a04e"/>
<line x1="291.4" y1="410.7" x2="302.3" y2="410.7" stroke="#111" stroke-width="1.5"/>
<path d="M307.5 399.4L310.1 402L307.5 404.6L304.9 402Z" fill="none" stroke="#36205a" stroke-width="1.2"/>
<path d="M312.2 399.4L314.8 402L312.2 404.6L309.59999999999997 402Z" fill="none" stroke="#36205a" stroke-width="1.2"/>
<path d="M316.5 409.79999999999995L319.1 412.4L316.5 415.0L313.9 412.4Z" fill="none" stroke="#36205a" stroke-width="1.2"/>
<path d="M312.2 418.5L314.8 421.1L312.2 423.70000000000005L309.59999999999997 421.1Z" fill="none" stroke="#36205a" stroke-width="1.2"/>
<path d="M312.2 427.59999999999997L314.8 430.2L312.2 432.8L309.59999999999997 430.2Z" fill="none" stroke="#36205a" stroke-width="1.2"/>
<path d="M316.5 432.79999999999995L319.1 435.4L316.5 438.0L313.9 435.4Z" fill="none" stroke="#36205a" stroke-width="1.2"/>
<path d="M312.2 438.4L314.8 441L312.2 443.6L309.59999999999997 441Z" fill="none" stroke="#36205a" stroke-width="1.2"/>
<line x1="307" y1="421.1" x2="317.4" y2="421.1" stroke="#111" stroke-width="1.5"/>
<rect x="325.85" y="404.05" width="3.9" height="3.9" fill="none" stroke="#8e1c40" stroke-width="1.2"/>
<rect x="321.15" y="406.95" width="3.9" height="3.9" fill="none" stroke="#8e1c40" stroke-width="1.2"/>
<rect x="330.15" y="409.55" width="3.9" height="3.9" fill="none" stroke="#8e1c40" stroke-width="1.2"/>
<rect x="325.35" y="413.35" width="3.9" height="3.9" fill="none" stroke="#8e1c40" stroke-width="1.2"/>
<rect x="325.35" y="431.75" width="3.9" height="3.9" fill="none" stroke="#8e1c40" stroke-width="1.2"/>
<rect x="325.35" y="441.65" width="3.9" height="3.9" fill="none" stroke="#8e1c40" stroke-width="1.2"/>
<rect x="329.85" y="440.75" width="3.9" height="3.9" fill="none" stroke="#8e1c40" stroke-width="1.2"/>
<line x1="322.6" y1="414.7" x2="332.5" y2="414.7" stroke="#111" stroke-width="1.5"/>
<path d="M340.40 432.45L342.80 437.05L338.00 437.05Z" fill="none" stroke="#243a66" stroke-width="1.25" stroke-linejoin="miter"/>
<path d="M347.30 434.15L349.70 438.75L344.90 438.75Z" fill="none" stroke="#243a66" stroke-width="1.25" stroke-linejoin="miter"/>
<path d="M338.20 437.65L340.60 442.25L335.80 442.25Z" fill="none" stroke="#243a66" stroke-width="1.25" stroke-linejoin="miter"/>
<path d="M343.40 438.55L345.80 443.15L341.00 443.15Z" fill="none" stroke="#243a66" stroke-width="1.25" stroke-linejoin="miter"/>
<path d="M338.70 452.65L341.10 457.25L336.30 457.25Z" fill="none" stroke="#243a66" stroke-width="1.25" stroke-linejoin="miter"/>
<path d="M347.30 453.25L349.70 457.85L344.90 457.85Z" fill="none" stroke="#243a66" stroke-width="1.25" stroke-linejoin="miter"/>
<path d="M343.40 460.15L345.80 464.75L341.00 464.75Z" fill="none" stroke="#243a66" stroke-width="1.25" stroke-linejoin="miter"/>
<line x1="336.4" y1="441" x2="348.6" y2="441" stroke="#111" stroke-width="1.5"/>
<text x="31.2" y="444.9" font-size="10.2" text-anchor="start" font-weight="normal" fill="#111" textLength="42.1" lengthAdjust="spacingAndGlyphs" transform="rotate(-90 31.2 444.9)">Apoptotic</text>
<text x="43.4" y="472.6" font-size="10.2" fill="#111" transform="rotate(-90 43.4 472.6)" textLength="98.7" lengthAdjust="spacingAndGlyphs">CD3<tspan dy="-3" font-size="6">+</tspan><tspan dy="3">- lymphocytes (%)</tspan></text>
<rect x="117.85" y="522.45" width="3.3" height="3.3" fill="none" stroke="#8e1c40" stroke-width="1.4"/>
<text x="123.5" y="527.1" font-size="7.9" fill="#111" textLength="62.2" lengthAdjust="spacingAndGlyphs">HD CD10<tspan dy="-3.0" font-size="5">+</tspan><tspan dy="3.0">-NDNs</tspan></text>
<path d="M119.20 532.40L121.80 537.30L116.60 537.30Z" fill="none" stroke="#243a66" stroke-width="1.3" stroke-linejoin="miter"/>
<text x="123.5" y="538.2" font-size="7.9" fill="#111" textLength="89.0" lengthAdjust="spacingAndGlyphs">GD CD66b<tspan dy="-3.0" font-size="5">+</tspan><tspan dy="3.0">CD10<tspan dy="-3.3" font-size="5">-</tspan><tspan dy="3.3">-LDNs</tspan></tspan></text>
<line x1="69.8" y1="555.2" x2="69.8" y2="711.5" stroke="#111" stroke-width="1.5"/>
<line x1="66.39999999999999" y1="557.3" x2="69.8" y2="557.3" stroke="#111" stroke-width="1.3"/>
<text x="64.2" y="560.4" font-size="8.8" text-anchor="end" font-weight="normal" fill="#111">300</text>
<line x1="66.39999999999999" y1="595.2" x2="69.8" y2="595.2" stroke="#111" stroke-width="1.3"/>
<text x="64.2" y="598.3000000000001" font-size="8.8" text-anchor="end" font-weight="normal" fill="#111">200</text>
<line x1="66.39999999999999" y1="633.1" x2="69.8" y2="633.1" stroke="#111" stroke-width="1.3"/>
<text x="64.2" y="636.2" font-size="8.8" text-anchor="end" font-weight="normal" fill="#111">100</text>
<line x1="66.4" y1="708.8" x2="69.8" y2="708.8" stroke="#111" stroke-width="1.3"/>
<text x="66.2" y="711.9" font-size="8.8" text-anchor="end" font-weight="normal" fill="#111">-100</text>
<line x1="38.8" y1="671.0" x2="283.2" y2="671.0" stroke="#111" stroke-width="1.5"/>
<line x1="176.6" y1="556.6" x2="176.6" y2="721.5" stroke="#2a2a2a" stroke-width="1.7" stroke-dasharray="2.4 1.7"/>
<line x1="194.3" y1="586.2" x2="227.4" y2="586.2" stroke="#111" stroke-width="1.3"/>
<circle cx="208.70" cy="580.40" r="1.1" fill="#111"/>
<circle cx="212.90" cy="580.40" r="1.1" fill="#111"/>
<text x="92.5" y="721.3" font-size="8.6" text-anchor="middle" font-weight="normal" fill="#111">-</text>
<text x="125.8" y="721.3" font-size="8.6" text-anchor="middle" font-weight="normal" fill="#111">&#945;CD18</text>
<text x="160.0" y="721.3" font-size="8.6" text-anchor="middle" font-weight="normal" fill="#111">IgG</text>
<text x="195.0" y="721.3" font-size="8.6" text-anchor="middle" font-weight="normal" fill="#111">-</text>
<text x="228.3" y="721.3" font-size="8.6" text-anchor="middle" font-weight="normal" fill="#111">&#945;CD18</text>
<text x="262.5" y="721.3" font-size="8.6" text-anchor="middle" font-weight="normal" fill="#111">IgG</text>
<rect x="78.35" y="653.35" width="3.9" height="3.9" fill="none" stroke="#8e1c40" stroke-width="1.2"/>
<rect x="85.75" y="648.25" width="3.9" height="3.9" fill="none" stroke="#8e1c40" stroke-width="1.2"/>
<rect x="78.35" y="661.65" width="3.9" height="3.9" fill="none" stroke="#8e1c40" stroke-width="1.2"/>
<rect x="85.75" y="656.85" width="3.9" height="3.9" fill="none" stroke="#8e1c40" stroke-width="1.2"/>
<rect x="93.15" y="655.65" width="3.9" height="3.9" fill="none" stroke="#8e1c40" stroke-width="1.2"/>
<rect x="85.75" y="666.25" width="3.9" height="3.9" fill="none" stroke="#8e1c40" stroke-width="1.2"/>
<rect x="93.15" y="671.85" width="3.9" height="3.9" fill="none" stroke="#8e1c40" stroke-width="1.2"/>
<rect x="85.75" y="677.65" width="3.9" height="3.9" fill="none" stroke="#8e1c40" stroke-width="1.2"/>
<line x1="77.3" y1="660.6" x2="98.8" y2="660.6" stroke="#111" stroke-width="1.5"/>
<rect x="128.55" y="637.85" width="3.9" height="3.9" fill="none" stroke="#8e1c40" stroke-width="1.2"/>
<rect x="120.95" y="643.65" width="3.9" height="3.9" fill="none" stroke="#8e1c40" stroke-width="1.2"/>
<rect x="120.95" y="653.35" width="3.9" height="3.9" fill="none" stroke="#8e1c40" stroke-width="1.2"/>
<rect x="120.95" y="662.15" width="3.9" height="3.9" fill="none" stroke="#8e1c40" stroke-width="1.2"/>
<rect x="113.55" y="669.75" width="3.9" height="3.9" fill="none" stroke="#8e1c40" stroke-width="1.2"/>
<rect x="128.55" y="669.75" width="3.9" height="3.9" fill="none" stroke="#8e1c40" stroke-width="1.2"/>
<rect x="120.95" y="674.15" width="3.9" height="3.9" fill="none" stroke="#8e1c40" stroke-width="1.2"/>
<rect x="120.95" y="684.05" width="3.9" height="3.9" fill="none" stroke="#8e1c40" stroke-width="1.2"/>
<line x1="112" y1="667.1" x2="134" y2="667.1" stroke="#111" stroke-width="1.5"/>
<rect x="156.35" y="623.55" width="3.9" height="3.9" fill="none" stroke="#8e1c40" stroke-width="1.2"/>
<rect x="148.65" y="657.95" width="3.9" height="3.9" fill="none" stroke="#8e1c40" stroke-width="1.2"/>
<rect x="160.25" y="657.55" width="3.9" height="3.9" fill="none" stroke="#8e1c40" stroke-width="1.2"/>
<rect x="156.35" y="661.65" width="3.9" height="3.9" fill="none" stroke="#8e1c40" stroke-width="1.2"/>
<rect x="163.95" y="660.95" width="3.9" height="3.9" fill="none" stroke="#8e1c40" stroke-width="1.2"/>
<rect x="148.65" y="669.55" width="3.9" height="3.9" fill="none" stroke="#8e1c40" stroke-width="1.2"/>
<rect x="156.35" y="676.05" width="3.9" height="3.9" fill="none" stroke="#8e1c40" stroke-width="1.2"/>
<rect x="156.35" y="686.45" width="3.9" height="3.9" fill="none" stroke="#8e1c40" stroke-width="1.2"/>
<line x1="146.7" y1="662.9" x2="168.7" y2="662.9" stroke="#111" stroke-width="1.5"/>
<path d="M193.80 598.15L196.20 602.75L191.40 602.75Z" fill="none" stroke="#243a66" stroke-width="1.25" stroke-linejoin="miter"/>
<path d="M201.70 595.35L204.10 599.95L199.30 599.95Z" fill="none" stroke="#243a66" stroke-width="1.25" stroke-linejoin="miter"/>
<path d="M193.80 609.65L196.20 614.25L191.40 614.25Z" fill="none" stroke="#243a66" stroke-width="1.25" stroke-linejoin="miter"/>
<path d="M193.80 618.95L196.20 623.55L191.40 623.55Z" fill="none" stroke="#243a66" stroke-width="1.25" stroke-linejoin="miter"/>
<path d="M201.70 617.35L204.10 621.95L199.30 621.95Z" fill="none" stroke="#243a66" stroke-width="1.25" stroke-linejoin="miter"/>
<path d="M193.80 632.85L196.20 637.45L191.40 637.45Z" fill="none" stroke="#243a66" stroke-width="1.25" stroke-linejoin="miter"/>
<path d="M193.80 655.25L196.20 659.85L191.40 659.85Z" fill="none" stroke="#243a66" stroke-width="1.25" stroke-linejoin="miter"/>
<path d="M201.70 653.15L204.10 657.75L199.30 657.75Z" fill="none" stroke="#243a66" stroke-width="1.25" stroke-linejoin="miter"/>
<line x1="182.7" y1="620.7" x2="205.9" y2="620.7" stroke="#111" stroke-width="1.5"/>
<path d="M229.00 646.25L231.40 650.85L226.60 650.85Z" fill="none" stroke="#243a66" stroke-width="1.25" stroke-linejoin="miter"/>
<path d="M236.70 644.45L239.10 649.05L234.30 649.05Z" fill="none" stroke="#243a66" stroke-width="1.25" stroke-linejoin="miter"/>
<path d="M221.40 654.15L223.80 658.75L219.00 658.75Z" fill="none" stroke="#243a66" stroke-width="1.25" stroke-linejoin="miter"/>
<path d="M229.00 654.15L231.40 658.75L226.60 658.75Z" fill="none" stroke="#243a66" stroke-width="1.25" stroke-linejoin="miter"/>
<path d="M229.00 662.95L231.40 667.55L226.60 667.55Z" fill="none" stroke="#243a66" stroke-width="1.25" stroke-linejoin="miter"/>
<path d="M221.40 668.75L223.80 673.35L219.00 673.35Z" fill="none" stroke="#243a66" stroke-width="1.25" stroke-linejoin="miter"/>
<path d="M229.00 671.05L231.40 675.65L226.60 675.65Z" fill="none" stroke="#243a66" stroke-width="1.25" stroke-linejoin="miter"/>
<path d="M229.00 679.55L231.40 684.15L226.60 684.15Z" fill="none" stroke="#243a66" stroke-width="1.25" stroke-linejoin="miter"/>
<line x1="217.5" y1="660.3" x2="239.9" y2="660.3" stroke="#111" stroke-width="1.5"/>
<path d="M264.30 589.55L266.70 594.15L261.90 594.15Z" fill="none" stroke="#243a66" stroke-width="1.25" stroke-linejoin="miter"/>
<path d="M264.30 605.75L266.70 610.35L261.90 610.35Z" fill="none" stroke="#243a66" stroke-width="1.25" stroke-linejoin="miter"/>
<path d="M264.30 622.45L266.70 627.05L261.90 627.05Z" fill="none" stroke="#243a66" stroke-width="1.25" stroke-linejoin="miter"/>
<path d="M264.30 631.25L266.70 635.85L261.90 635.85Z" fill="none" stroke="#243a66" stroke-width="1.25" stroke-linejoin="miter"/>
<path d="M271.70 629.35L274.10 633.95L269.30 633.95Z" fill="none" stroke="#243a66" stroke-width="1.25" stroke-linejoin="miter"/>
<path d="M264.30 659.95L266.70 664.55L261.90 664.55Z" fill="none" stroke="#243a66" stroke-width="1.25" stroke-linejoin="miter"/>
<path d="M271.70 666.35L274.10 670.95L269.30 670.95Z" fill="none" stroke="#243a66" stroke-width="1.25" stroke-linejoin="miter"/>
<path d="M264.30 674.05L266.70 678.65L261.90 678.65Z" fill="none" stroke="#243a66" stroke-width="1.25" stroke-linejoin="miter"/>
<line x1="253.1" y1="631.8" x2="276.3" y2="631.8" stroke="#111" stroke-width="1.5"/>
<text x="30.0" y="688.5" font-size="10.6" text-anchor="start" font-weight="normal" fill="#111" textLength="109.5" lengthAdjust="spacingAndGlyphs" transform="rotate(-90 30.0 688.5)">T lymphocyte proliferation</text>
<text x="44.0" y="638.1" font-size="8.6" text-anchor="start" font-weight="normal" fill="#111" textLength="47.8" lengthAdjust="spacingAndGlyphs" transform="rotate(-90 44.0 638.1)">(% increase)</text>
<text x="44.0" y="728.6" font-size="8.6" text-anchor="start" font-weight="normal" fill="#111" textLength="51.7" lengthAdjust="spacingAndGlyphs" transform="rotate(-90 44.0 728.6)">(% decrease)</text>
<rect x="376.75" y="522.75" width="3.3" height="3.3" fill="none" stroke="#8e1c40" stroke-width="1.4"/>
<text x="382.6" y="527.3" font-size="7.9" fill="#111" textLength="61.6" lengthAdjust="spacingAndGlyphs">HD CD10<tspan dy="-3.0" font-size="5">+</tspan><tspan dy="3.0">-NDNs</tspan></text>
<path d="M378.40 532.60L381.00 537.50L375.80 537.50Z" fill="none" stroke="#243a66" stroke-width="1.3" stroke-linejoin="miter"/>
<text x="382.6" y="538.1" font-size="7.9" fill="#111" textLength="88.8" lengthAdjust="spacingAndGlyphs">GD CD66b<tspan dy="-3.0" font-size="5">+</tspan><tspan dy="3.0">CD10<tspan dy="-3.3" font-size="5">-</tspan><tspan dy="3.3">-LDNs</tspan></tspan></text>
<line x1="358.5" y1="555.2" x2="358.5" y2="711.2" stroke="#111" stroke-width="1.5"/>
<line x1="355.1" y1="557.2" x2="358.5" y2="557.2" stroke="#111" stroke-width="1.3"/>
<text x="352.6" y="560.3000000000001" font-size="8.8" text-anchor="end" font-weight="normal" fill="#111">300</text>
<line x1="355.1" y1="594.9" x2="358.5" y2="594.9" stroke="#111" stroke-width="1.3"/>
<text x="352.6" y="598.0" font-size="8.8" text-anchor="end" font-weight="normal" fill="#111">200</text>
<line x1="355.1" y1="632.5" x2="358.5" y2="632.5" stroke="#111" stroke-width="1.3"/>
<text x="352.6" y="635.6" font-size="8.8" text-anchor="end" font-weight="normal" fill="#111">100</text>
<line x1="355.1" y1="708.0" x2="358.5" y2="708.0" stroke="#111" stroke-width="1.3"/>
<text x="354.8" y="711.1" font-size="8.8" text-anchor="end" font-weight="normal" fill="#111">-100</text>
<line x1="327.3" y1="670.3" x2="512.6" y2="670.3" stroke="#111" stroke-width="1.5"/>
<line x1="397.3" y1="561.2" x2="397.3" y2="722.5" stroke="#2a2a2a" stroke-width="1.7" stroke-dasharray="2.4 1.7"/>
<line x1="416.5" y1="557.0" x2="454.7" y2="557.0" stroke="#111" stroke-width="1.3"/>
<circle cx="435.60" cy="551.20" r="1.1" fill="#111"/>
<text x="376.6" y="720.8" font-size="8.6" text-anchor="middle" font-weight="normal" fill="#111">-</text>
<text x="415.3" y="720.8" font-size="8.6" text-anchor="middle" font-weight="normal" fill="#111">-</text>
<text x="454.6" y="720.8" font-size="8.6" text-anchor="middle" font-weight="normal" fill="#111">&#945;CD18</text>
<text x="494.0" y="720.8" font-size="8.6" text-anchor="middle" font-weight="normal" fill="#111">IgG</text>
<rect x="375.75" y="648.95" width="3.9" height="3.9" fill="none" stroke="#8e1c40" stroke-width="1.2"/>
<rect x="368.35" y="659.15" width="3.9" height="3.9" fill="none" stroke="#8e1c40" stroke-width="1.2"/>
<rect x="375.75" y="659.85" width="3.9" height="3.9" fill="none" stroke="#8e1c40" stroke-width="1.2"/>
<rect x="375.75" y="682.95" width="3.9" height="3.9" fill="none" stroke="#8e1c40" stroke-width="1.2"/>
<line x1="365.7" y1="661.3" x2="390.5" y2="661.3" stroke="#111" stroke-width="1.5"/>
<path d="M416.40 563.35L418.80 567.95L414.00 567.95Z" fill="none" stroke="#243a66" stroke-width="1.25" stroke-linejoin="miter"/>
<path d="M416.40 618.35L418.80 622.95L414.00 622.95Z" fill="none" stroke="#243a66" stroke-width="1.25" stroke-linejoin="miter"/>
<path d="M416.40 637.35L418.80 641.95L414.00 641.95Z" fill="none" stroke="#243a66" stroke-width="1.25" stroke-linejoin="miter"/>
<path d="M424.00 633.45L426.40 638.05L421.60 638.05Z" fill="none" stroke="#243a66" stroke-width="1.25" stroke-linejoin="miter"/>
<line x1="404.3" y1="627.5" x2="429.3" y2="627.5" stroke="#111" stroke-width="1.5"/>
<path d="M454.50 646.65L456.90 651.25L452.10 651.25Z" fill="none" stroke="#243a66" stroke-width="1.25" stroke-linejoin="miter"/>
<path d="M446.80 663.55L449.20 668.15L444.40 668.15Z" fill="none" stroke="#243a66" stroke-width="1.25" stroke-linejoin="miter"/>
<path d="M455.00 668.65L457.40 673.25L452.60 673.25Z" fill="none" stroke="#243a66" stroke-width="1.25" stroke-linejoin="miter"/>
<path d="M454.40 701.75L456.80 706.35L452.00 706.35Z" fill="none" stroke="#243a66" stroke-width="1.25" stroke-linejoin="miter"/>
<line x1="442" y1="667.8" x2="466.5" y2="667.8" stroke="#111" stroke-width="1.5"/>
<path d="M492.90 603.85L495.30 608.45L490.50 608.45Z" fill="none" stroke="#243a66" stroke-width="1.25" stroke-linejoin="miter"/>
<path d="M492.90 636.95L495.30 641.55L490.50 641.55Z" fill="none" stroke="#243a66" stroke-width="1.25" stroke-linejoin="miter"/>
<path d="M492.90 649.55L495.30 654.15L490.50 654.15Z" fill="none" stroke="#243a66" stroke-width="1.25" stroke-linejoin="miter"/>
<path d="M501.00 648.55L503.40 653.15L498.60 653.15Z" fill="none" stroke="#243a66" stroke-width="1.25" stroke-linejoin="miter"/>
<line x1="480.2" y1="645" x2="505.6" y2="645" stroke="#111" stroke-width="1.5"/>
<text x="320.2" y="665.1" font-size="10.4" text-anchor="start" font-weight="normal" fill="#111" textLength="64.6" lengthAdjust="spacingAndGlyphs" transform="rotate(-90 320.2 665.1)">IFN&#947; production</text>
<text x="330.6" y="638.0" font-size="8.6" text-anchor="start" font-weight="normal" fill="#111" textLength="47.8" lengthAdjust="spacingAndGlyphs" transform="rotate(-90 330.6 638.0)">(% increase)</text>
<text x="330.6" y="727.1" font-size="8.6" text-anchor="start" font-weight="normal" fill="#111" textLength="50.4" lengthAdjust="spacingAndGlyphs" transform="rotate(-90 330.6 727.1)">(% decrease)</text>
</svg>
</body></html>
